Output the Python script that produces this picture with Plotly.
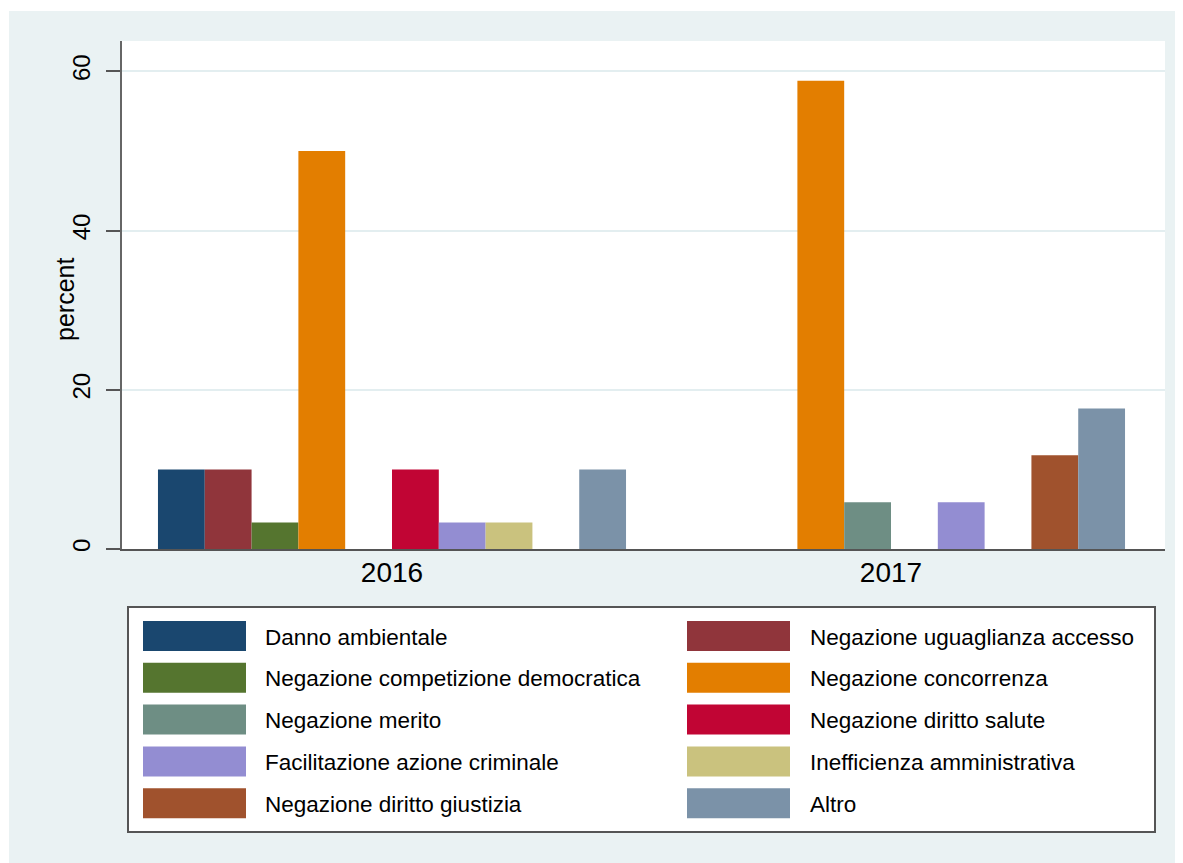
import plotly.graph_objects as go

# ---------------- data ----------------
years = [2016, 2017]
year_labels = ["2016", "2017"]
categories = [
    "Danno ambientale",
    "Negazione uguaglianza accesso",
    "Negazione competizione democratica",
    "Negazione concorrenza",
    "Negazione merito",
    "Negazione diritto salute",
    "Facilitazione azione criminale",
    "Inefficienza amministrativa",
    "Negazione diritto giustizia",
    "Altro",
]
values = [
    [10.0, 0.0],
    [10.0, 0.0],
    [3.33, 0.0],
    [50.0, 58.82],
    [0.0, 5.88],
    [10.0, 0.0],
    [3.33, 5.88],
    [3.33, 0.0],
    [0.0, 11.76],
    [10.0, 17.65],
]
colors = ["#1a476f", "#90353b", "#55752f", "#e37e00", "#6e8e84",
          "#c10534", "#938dd2", "#cac27e", "#a0522d", "#7b92a8"]
y_ticks = [0, 20, 40, 60]

# ---------------- layout constants ----------------
# page offset of the figure inside the browser body
OFF = 8
W, H = 1183, 863
# plot area in screen pixels
SL, SR, ST, SB = 122, 1165, 41, 549
L, R, T, B = SL - OFF, SR - OFF, ST - OFF, SB - OFF
BG = "#eaf2f3"
FONT = "Liberation Sans, Arial, Helvetica, sans-serif"


def px(x):
    """screen x -> paper x"""
    return (x - SL) / (SR - SL)


def py(y):
    """screen y -> paper y"""
    return (SB - y) / (SB - ST)


fig = go.Figure()
for name, vals, col in zip(categories, values, colors):
    fig.add_trace(go.Bar(
        x=years, y=vals, name=name,
        marker=dict(color=col, line=dict(width=0)),
        showlegend=False,
    ))

shapes = []
annotations = []
# thin white strips at top/left of the image
shapes.append(dict(type="rect", xref="paper", yref="paper",
                   x0=px(0), x1=px(W + 20), y0=py(11), y1=py(0),
                   fillcolor="white", line=dict(width=0), layer="below"))
shapes.append(dict(type="rect", xref="paper", yref="paper",
                   x0=px(0), x1=px(9), y0=py(H + 20), y1=py(0),
                   fillcolor="white", line=dict(width=0), layer="below"))

# legend box
shapes.append(dict(type="rect", xref="paper", yref="paper",
                   x0=px(128), x1=px(1155), y0=py(832), y1=py(607),
                   fillcolor="white", line=dict(color="#555555", width=2)))
row_top0, row_pitch, sw_h, sw_w = 621, 41.8, 30, 103
col_sw_x = [143, 687]
col_tx_x = [263, 808]
for i, (name, col) in enumerate(zip(categories, colors)):
    r, c = divmod(i, 2)
    top = row_top0 + r * row_pitch
    shapes.append(dict(type="rect", xref="paper", yref="paper",
                       x0=px(col_sw_x[c]), x1=px(col_sw_x[c] + sw_w),
                       y0=py(top + sw_h), y1=py(top),
                       fillcolor=col, line=dict(width=0)))
    annotations.append(dict(xref="paper", yref="paper",
                            x=px(col_tx_x[c]), y=py(top + sw_h / 2 + 1),
                            text=name, showarrow=False,
                            xanchor="left", yanchor="middle",
                            font=dict(size=22.5, color="#000000", family=FONT)))

# y axis title
annotations.append(dict(xref="paper", yref="paper",
                        x=px(65), y=py(300), text="percent", textangle=-90,
                        showarrow=False, xanchor="center", yanchor="middle",
                        font=dict(size=25, color="#000000", family=FONT)))

fig.update_layout(
    width=W, height=H,
    margin=dict(l=L, r=W - R, t=T, b=H - B, pad=0),
    paper_bgcolor=BG, plot_bgcolor="white",
    barmode="group", bargap=0.062, bargroupgap=0,
    font=dict(family=FONT, color="#000000"),
    shapes=shapes, annotations=annotations,
    showlegend=False,
    xaxis=dict(
        range=[2016 - 270 / 499, 2017 + 274 / 499],
        tickmode="array", tickvals=years, ticktext=year_labels,
        ticks="", showgrid=False, zeroline=False,
        showline=True, linecolor="#555555", linewidth=2,
        tickfont=dict(size=28, color="#000000", family=FONT),
        ticklabelstandoff=-3,
        fixedrange=True,
    ),
    yaxis=dict(
        range=[0, 63.8],
        tickmode="array", tickvals=y_ticks,
        tickangle=-90,
        ticks="outside", ticklen=14, tickwidth=2, tickcolor="#555555",
        showline=True, linecolor="#666666", linewidth=2,
        showgrid=True, gridcolor="#e3eef0", gridwidth=2,
        zeroline=False,
        tickfont=dict(size=24, color="#000000", family=FONT),
        ticklabelstandoff=6,
        fixedrange=True,
    ),
)

fig.write_html("out.html")
